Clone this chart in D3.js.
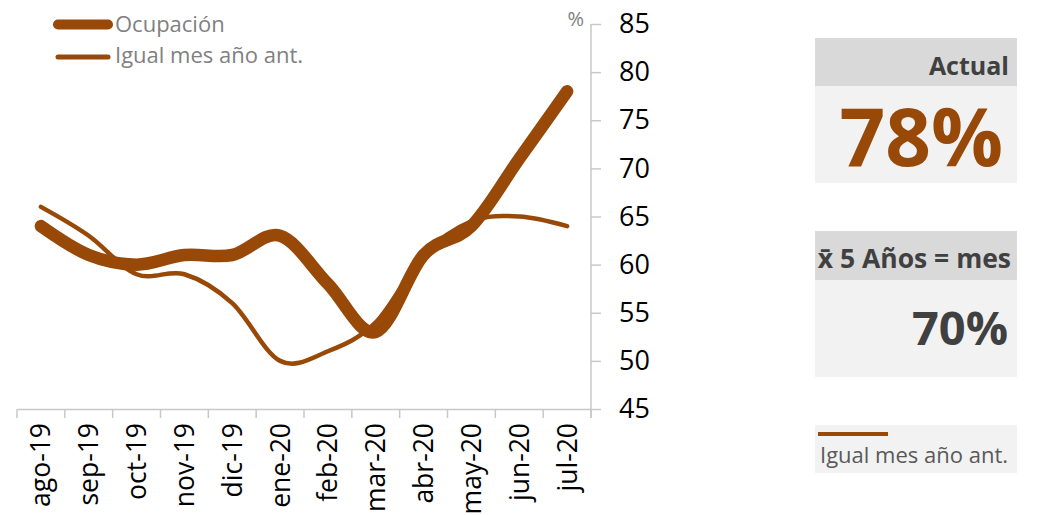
<!DOCTYPE html>
<html><head><meta charset="utf-8">
<script src="https://cdn.jsdelivr.net/npm/d3@7"></script>
<style>body{margin:0;background:#fff}svg{display:block}svg text{font-family:"Open Sans",sans-serif}</style>
</head><body><svg id="c" width="1040" height="515"></svg>
<script>
const categories = ["ago-19","sep-19","oct-19","nov-19","dic-19","ene-20","feb-20","mar-20","abr-20","may-20","jun-20","jul-20"];
const ocupacion = [64, 61, 60, 61, 61, 63, 58, 53, 61, 64, 71, 78];
const igualMesAnoAnt = [66, 63, 59, 59, 56, 50, 51, 54, 61, 64.5, 65, 64];
const yTicks = [45,50,55,60,65,70,75,80,85];
const seriesNames = ["Ocupación","Igual mes año ant."];
const actualValue = "78%";
const avg5Value = "70%";

const color = "#984807";
const svg = d3.select("#c");
const x = d3.scaleBand().domain(categories).range([17, 591]);
const y = d3.scaleLinear().domain([45, 85]).range([409, 24]);

// axes
const gx = svg.append("g").attr("transform","translate(0,409)")
  .call(d3.axisBottom(x).tickSize(0).tickFormat(""));
gx.select(".domain").attr("stroke","#c8c8c8").attr("stroke-width",1.5);
const bounds = categories.map(c => x(c)).concat([x.range()[1]]);
gx.selectAll("line.b").data(bounds).enter().append("line").attr("class","b")
  .attr("x1",d=>d).attr("x2",d=>d).attr("y1",0).attr("y2",9)
  .attr("stroke","#c8c8c8").attr("stroke-width",1.5);
gx.selectAll("text.l").data(categories).enter().append("text").attr("class","l")
  .attr("transform",d=>`translate(${x(d)+x.bandwidth()/2},14) rotate(-90)`)
  .attr("dy","0.36em").attr("text-anchor","end")
  .attr("font-size",26.5).attr("fill","#000").text(d=>d);

const gy = svg.append("g").attr("transform","translate(591,0)")
  .call(d3.axisRight(y).tickValues(yTicks).tickSize(10).tickPadding(18));
gy.select(".domain").attr("stroke","#c8c8c8").attr("stroke-width",1.5).attr("d","M0,24V418");
gy.selectAll(".tick line").attr("stroke","#c8c8c8").attr("stroke-width",1.5);
gy.selectAll(".tick text").attr("font-size",27).attr("fill","#000");
svg.append("text").attr("x",584).attr("y",26).attr("text-anchor","end")
  .attr("font-size",20).attr("fill","#808080").text("%");

const line = d3.line()
  .x((d,i)=>x(categories[i])+x.bandwidth()/2)
  .y(d=>y(d))
  .curve(d3.curveCardinal.tension(0));
svg.append("path").datum(igualMesAnoAnt).attr("d",line)
  .attr("fill","none").attr("stroke",color).attr("stroke-width",4.5).attr("stroke-linecap","round");
svg.append("path").datum(ocupacion).attr("d",line)
  .attr("fill","none").attr("stroke",color).attr("stroke-width",12.5)
  .attr("stroke-linecap","round").attr("stroke-linejoin","round");

// legend
const leg = [{n:seriesNames[0],w:10,y:24.5,ty:32},{n:seriesNames[1],w:5,y:57,ty:63}];
leg.forEach(l=>{
  svg.append("line").attr("x1",58).attr("x2",108).attr("y1",l.y).attr("y2",l.y)
    .attr("stroke",color).attr("stroke-width",l.w).attr("stroke-linecap","round");
  svg.append("text").attr("x",115).attr("y",l.ty).attr("font-size",22).attr("fill","#808080").text(l.n);
});

// right panels
function rect(x0,y0,x1,y1,f){svg.append("rect").attr("x",x0).attr("y",y0).attr("width",x1-x0).attr("height",y1-y0).attr("fill",f);}
rect(815,38,1017,86,"#d9d9d9");
rect(815,86,1017,183,"#f2f2f2");
svg.append("text").attr("x",1009).attr("y",75).attr("text-anchor","end").attr("font-size",25)
  .attr("font-weight","bold").attr("fill","#404040").text("Actual");
svg.append("text").attr("x",1003).attr("y",166).attr("text-anchor","end").attr("font-size",80)
  .attr("font-weight","bold").attr("fill",color).text(actualValue);

rect(815,231,1017,280,"#d9d9d9");
rect(815,280,1017,377,"#f2f2f2");
svg.append("text").attr("x",1011).attr("y",268).attr("text-anchor","end").attr("font-size",26.5)
  .attr("font-weight","bold").attr("fill","#404040").text("x\u0304 5 Años = mes");
svg.append("text").attr("x",1008).attr("y",345).attr("text-anchor","end").attr("font-size",47)
  .attr("font-weight","bold").attr("fill","#404040").text(avg5Value);

rect(815,425,1017,473,"#f2f2f2");
svg.append("line").attr("x1",818).attr("x2",888).attr("y1",434).attr("y2",434)
  .attr("stroke",color).attr("stroke-width",4);
svg.append("text").attr("x",820).attr("y",463).attr("font-size",22).attr("fill","#595959").text(seriesNames[1]);
</script></body></html>
